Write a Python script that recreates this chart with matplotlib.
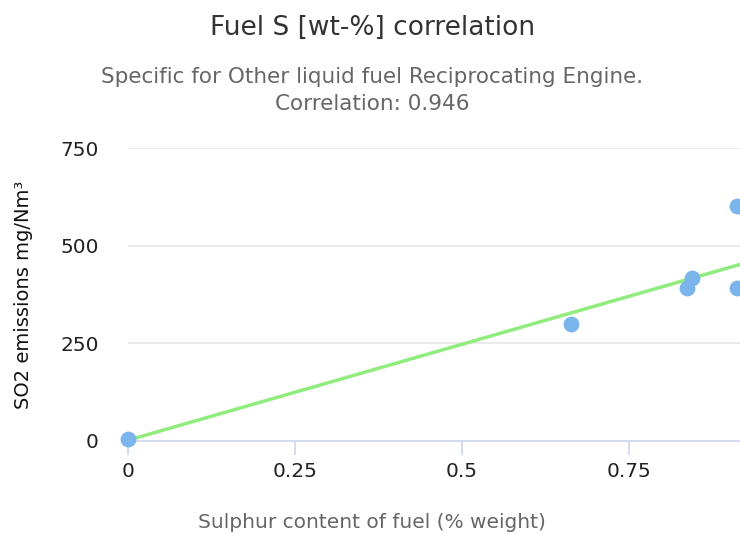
import matplotlib.pyplot as plt
import numpy as np

# scatter data (sulphur % weight vs SO2 mg/Nm3)
sulphur = [0.0, 0.663, 0.836, 0.844, 0.911, 0.911]
so2 = [5, 299, 391, 416, 602, 391]

# regression line
fit_x = [0.0, 0.916]
fit_y = [2, 452]

xticks = [0, 0.25, 0.5, 0.75]
xticklabels = ["0", "0.25", "0.5", "0.75"]
yticks = [0, 250, 500, 750]

W, H = 740, 534
fig = plt.figure(figsize=(W / 100, H / 100), dpi=100)
ax = fig.add_axes([128 / W, (H - 441) / H, (W - 128) / W, (441 - 148) / H])

ax.set_xlim(0, 0.916)
ax.set_ylim(0, 750)

for y in yticks[1:]:
    ax.axhline(y, color="#e6e6e6", lw=1.2, zorder=0)

ax.plot(fit_x, fit_y, color="#90ed7d", lw=2.5, zorder=2, clip_on=False)
ax.scatter(sulphur, so2, s=130, color="#7cb5ec", zorder=3, clip_on=False, linewidths=0)

for s in ["top", "right", "left"]:
    ax.spines[s].set_visible(False)
ax.spines["bottom"].set_color("#ccd6eb")
ax.spines["bottom"].set_linewidth(1.2)

ax.set_xticks(xticks)
ax.set_xticklabels(xticklabels)
ax.set_yticks(yticks)
ax.tick_params(axis="x", length=10, width=1.2, color="#ccd6eb", pad=5,
               labelsize=14.5, labelcolor="#222222")
ax.tick_params(axis="y", length=0, pad=21, labelsize=14.5, labelcolor="#222222")

ax.set_ylabel("SO2 emissions mg/Nm³", fontsize=14, color="#111111", labelpad=20)

fig.text(0.503, 0.947, "Fuel S [wt-%] correlation", ha="center", va="center",
         fontsize=19, color="#333333")
fig.text(0.503, 0.855, "Specific for Other liquid fuel Reciprocating Engine.",
         ha="center", va="center", fontsize=15.5, color="#666666")
fig.text(0.503, 0.806, "Correlation: 0.946", ha="center", va="center",
         fontsize=15.5, color="#666666")
fig.text(0.503, 0.022, "Sulphur content of fuel (% weight)", ha="center",
         va="center", fontsize=14.5, color="#666666")

fig.savefig("out.png", dpi=100)
